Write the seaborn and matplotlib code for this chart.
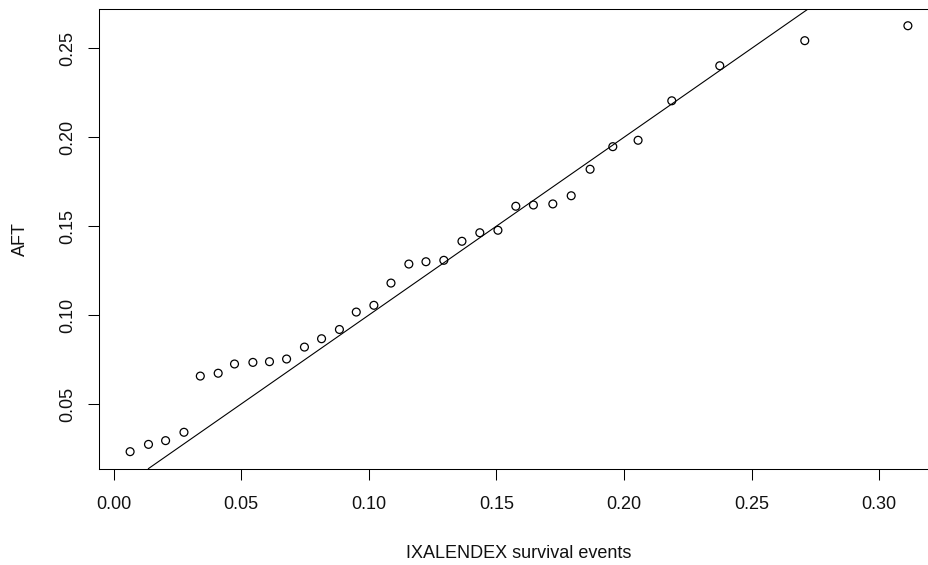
import numpy as np
import pandas as pd
import matplotlib
matplotlib.use("Agg")
import matplotlib.pyplot as plt
import seaborn as sns

# Observed values (IXALENDEX survival events vs AFT)
ixalendex = [0.0065, 0.0137, 0.0204, 0.0276, 0.0340, 0.0410, 0.0474, 0.0546,
             0.0611, 0.0678, 0.0748, 0.0815, 0.0885, 0.0951, 0.1020, 0.1087,
             0.1157, 0.1224, 0.1294, 0.1365, 0.1435, 0.1506, 0.1576, 0.1645,
             0.1721, 0.1793, 0.1867, 0.1956, 0.2055, 0.2187, 0.2375, 0.2708,
             0.3112]
aft = [0.0232, 0.0273, 0.0294, 0.0341, 0.0657, 0.0673, 0.0725, 0.0734,
       0.0738, 0.0753, 0.0820, 0.0867, 0.0919, 0.1017, 0.1055, 0.1180,
       0.1287, 0.1300, 0.1308, 0.1415, 0.1463, 0.1477, 0.1612, 0.1619,
       0.1625, 0.1671, 0.1820, 0.1947, 0.1983, 0.2205, 0.2402, 0.2543,
       0.2627]

# Reference line y = intercept + slope * x
line_intercept = 0.0
line_slope = 1.0

x_ticks = [0.00, 0.05, 0.10, 0.15, 0.20, 0.25, 0.30]
y_ticks = [0.05, 0.10, 0.15, 0.20, 0.25]
x_label = "IXALENDEX survival events"
y_label = "AFT"

df = pd.DataFrame({"x": ixalendex, "y": aft})

sns.set_theme(style="white")
plt.rcParams["font.family"] = ["Liberation Sans", "DejaVu Sans"]

fig = plt.figure(figsize=(9.29, 5.65), dpi=100)
ax = fig.add_axes([99 / 929, 1 - 468.7 / 565, 840 / 929, 460 / 565])

sns.scatterplot(data=df, x="x", y="y", ax=ax, marker="o", s=32,
                facecolors="none", edgecolor="black", linewidth=0.9,
                zorder=3)
ax.axline((0.0, line_intercept), slope=line_slope, color="black", lw=0.8)

# R-style axis ranges: data range extended by 4% on each side
def padded(vals, frac=0.04):
    lo, hi = min(vals), max(vals)
    r = hi - lo
    return lo - frac * r, hi + frac * r

ax.set_xlim(*padded(ixalendex))
ax.set_ylim(*padded(aft))

ax.set_xticks(x_ticks)
ax.set_xticklabels([f"{v:.2f}" for v in x_ticks])
ax.set_yticks(y_ticks)
ax.set_yticklabels([f"{v:.2f}" for v in y_ticks], rotation=90, va="center")

ax.tick_params(axis="both", which="major", bottom=True, left=True,
               direction="out", length=7.7, width=0.75, color="black",
               labelsize=13, labelcolor="#111111")
ax.tick_params(axis="x", pad=12.0)
ax.tick_params(axis="y", pad=8.6)

for sp in ax.spines.values():
    sp.set_visible(True)
    sp.set_color("black")
    sp.set_linewidth(0.75)

ax.set_xlabel(x_label, fontsize=13, color="#111111")
ax.set_ylabel(y_label, fontsize=13, color="#111111")
ax.xaxis.set_label_coords(0.5, (468.7 - 558) / 460)
ax.xaxis.label.set_va("baseline")
ax.yaxis.set_label_coords((29 - 99) / 840, 0.5)
ax.grid(False)

fig.savefig("out.png", dpi=100, facecolor="white")
